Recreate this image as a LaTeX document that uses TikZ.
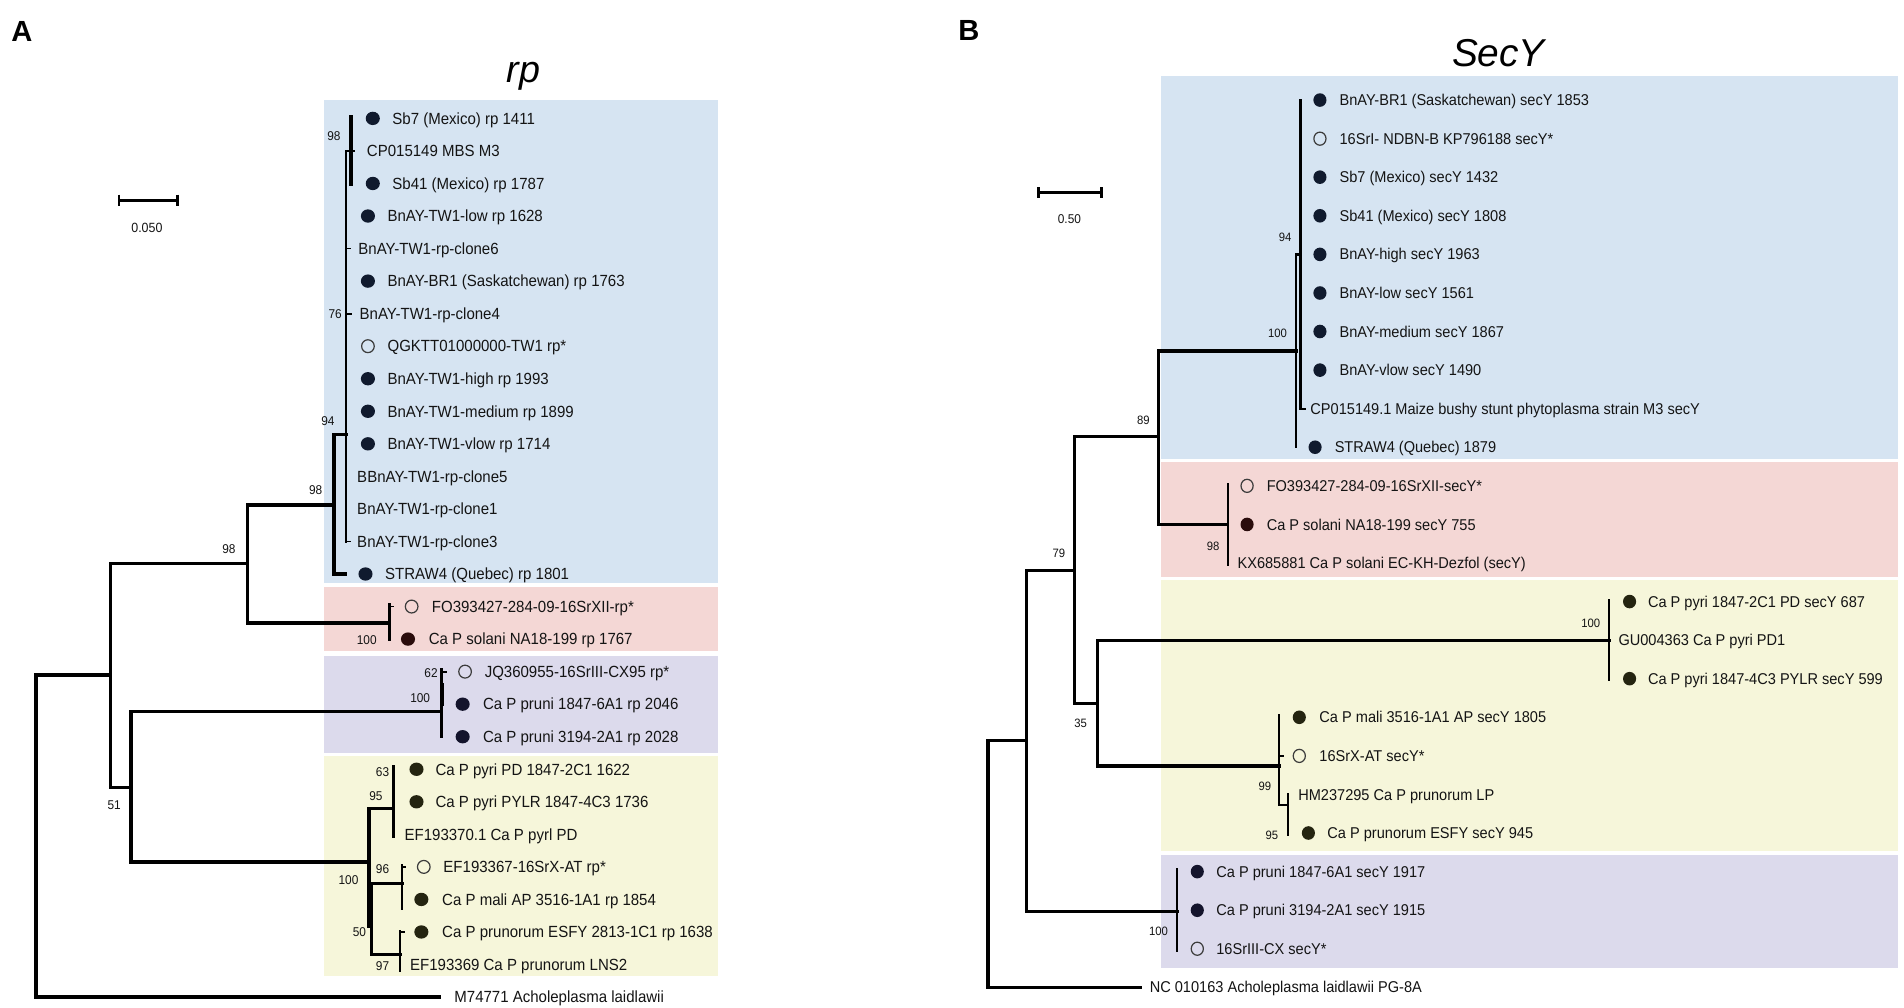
\documentclass[tikz,border=0pt]{standalone}
\usepackage{fontspec}
\setmainfont{Liberation Sans}
\newfontfamily\fN[FakeStretch=0.93]{Liberation Sans}
\definecolor{bgBlue}{RGB}{214,228,242}
\definecolor{bgRed}{RGB}{244,215,213}
\definecolor{bgPurple}{RGB}{220,218,236}
\definecolor{bgYellow}{RGB}{246,246,218}
\definecolor{dNavy}{RGB}{16,26,46}
\definecolor{dBrown}{RGB}{42,12,12}
\definecolor{dPurple}{RGB}{20,20,44}
\definecolor{dOlive}{RGB}{36,36,16}
\definecolor{txt}{RGB}{20,20,20}
\definecolor{ring}{RGB}{60,60,60}
\tikzset{
  labA/.style={anchor=west, inner sep=0pt, text height=9.5pt, text depth=0pt, text=txt, font=\fN\fontsize{13.3}{14}\selectfont},
  labB/.style={anchor=west, inner sep=0pt, text height=9.2pt, text depth=0pt, text=txt, font=\fN\fontsize{12.9}{14}\selectfont},
  bsA/.style={inner sep=0pt, text=txt, font=\fN\fontsize{10.5}{12}\selectfont},
  bsB/.style={inner sep=0pt, text=txt, font=\fN\fontsize{10}{12}\selectfont},
  brA/.style={line width=2.9pt, draw=black},
  brV/.style={line width=2.2pt, draw=black},
  tk/.style={line width=1.5pt, draw=black},
  brB/.style={line width=2.6pt, draw=black},
  brBl/.style={line width=1.8pt, draw=black},
  fdot/.style={fill=#1, draw=none},
  odot/.style={draw=ring, line width=1pt, fill=none},
}
\begin{document}
\begin{tikzpicture}[x=1pt,y=-1pt,line cap=rect]
\useasboundingbox (0,0) rectangle (1568,830);
\fill[white] (0,0) rectangle (1568,830);
% ---------- background boxes ----------
\fill[bgBlue]   (267,82)    rectangle (591,480.5);
\fill[bgRed]    (267,483.5) rectangle (591,536.5);
\fill[bgPurple] (267,540)   rectangle (591,620);
\fill[bgYellow] (267,622.5) rectangle (591,804);
\fill[bgBlue]   (955.8,62.6)  rectangle (1563,378);
\fill[bgRed]    (955.8,380.7) rectangle (1563,475);
\fill[bgYellow] (955.8,477.6) rectangle (1563,701);
\fill[bgPurple] (955.8,704.5) rectangle (1563,797.3);
% ---------- headings ----------
\node[font=\bfseries\fontsize{24}{26}\selectfont, inner sep=0pt] (hA) at (18,26) {A};
\node[font=\bfseries\fontsize{24}{26}\selectfont, inner sep=0pt] (hB) at (798,24.7) {B};
\node[font=\itshape\fontsize{31}{33}\selectfont, inner sep=0pt] (tA) at (431,63) {rp};
\node[font=\itshape\fontsize{32}{34}\selectfont, inner sep=0pt] (tB) at (1234,44) {SecY};
% ---------- scale bars ----------
\coordinate (sa1) at (98,165); \coordinate (sa2) at (146,165);
\draw[line width=2.8pt,line cap=butt] (sa1) -- (sa2);
\draw[line width=2.4pt,line cap=butt] (98,160.3) -- (98,169.7) (146,160.3) -- (146,169.7);
\node[bsA, font=\fN\fontsize{11}{12}\selectfont] (sAl) at (121,187.5) {0.050};
\coordinate (sb1) at (855,158.7); \coordinate (sb2) at (907,158.7);
\draw[line width=2.4pt,line cap=butt] (sb1) -- (sb2);
\draw[line width=2.2pt,line cap=butt] (855,154.2) -- (855,163.2) (907,154.2) -- (907,163.2);
\node[bsA, font=\fN\fontsize{10.5}{12}\selectfont] (sBl) at (880.7,180.6) {0.50};

% =========== PANEL A tree ===========
\draw[brA] (289,96) -- (289,152);
\draw[tk] (285,124.3) -- (292,124.3);
\draw[brV] (285,124.3) -- (285,445.9);
\draw[tk] (285,204.7) -- (288,204.7);
\draw[tk] (285,258.3) -- (289,258.3);
\draw[tk] (285,445.9) -- (288,445.9);
\draw[brA] (275,358) -- (285,358);
\draw[brA] (275,358) -- (275,472.7) -- (284,472.7);
\draw[brA] (204,416) -- (275,416);
\draw[brA] (204,416) -- (204,513) -- (320.6,513);
\draw[brV] (320.6,498) -- (320.6,527);
\draw[tk] (320.6,499.5) -- (323.5,499.5);
\draw[brA] (91,464) -- (204,464);
\draw[brA] (91,464) -- (91,648.5) -- (108,648.5);
\draw[brA] (29.6,556) -- (91,556);
\draw[brA] (29.6,556) -- (29.6,821.1) -- (362,821.1);
\draw[brA] (108,586) -- (108,710);
\draw[brA] (108,586) -- (363.5,586);
\draw[brV] (363.5,551.5) -- (363.5,606.7);
\draw[line width=3.2pt] (364,564) -- (364,580);
\draw[tk] (363.5,553.1) -- (367,553.1);
\draw[brA] (108,710) -- (304,710);
\draw[brA] (304,665.7) -- (304,762);
\draw[line width=3.8pt] (304.5,728) -- (304.5,762);
\draw[brA] (304,665.7) -- (324,665.7);
\draw[brV] (324,631) -- (324,689);
\draw[line width=2.8pt] (324,631) -- (324,660);
\draw[brA] (305,727.5) -- (331,727.5);
\draw[brV] (331,713) -- (331,748);
\draw[tk] (331,713.9) -- (334,713.9);
\draw[brA] (306,727.5) -- (306,786) -- (329.5,786);
\draw[brV] (329.5,767) -- (329.5,799);
\draw[tk] (329.5,767.5) -- (333,767.5);

% bootstrap A
\node[bsA] (ba1) at (275,112.5) {98};
\node[bsA] (ba2) at (276,259) {76};
\node[bsA] (ba3) at (270,347) {94};
\node[bsA] (ba4) at (260,404) {98};
\node[bsA] (ba5) at (188.5,452) {98};
\node[bsA] (ba6) at (302,527) {100};
\node[bsA] (ba7) at (355,554) {62};
\node[bsA] (ba8) at (346,575) {100};
\node[bsA] (ba9) at (94,663) {51};
\node[bsA] (ba10) at (315,635.5) {63};
\node[bsA] (ba11) at (309.6,655.5) {95};
\node[bsA] (ba12) at (315,716) {96};
\node[bsA] (ba13) at (287,724.6) {100};
\node[bsA] (ba14) at (296,768) {50};
\node[bsA] (ba15) at (315,796) {97};

% leaves A
\fill[fdot=dNavy] (307,97.5) ellipse[x radius=5.8,y radius=5.5];
\node[labA] (a0) at (323,97.5) {Sb7 (Mexico) rp 1411};
\node[labA] (a1) at (302,124.3) {CP015149 MBS M3};
\fill[fdot=dNavy] (307,151.1) ellipse[x radius=5.8,y radius=5.5];
\node[labA] (a2) at (323,151.1) {Sb41 (Mexico) rp 1787};
\fill[fdot=dNavy] (303,177.9) ellipse[x radius=5.8,y radius=5.5];
\node[labA] (a3) at (319,177.9) {BnAY-TW1-low rp 1628};
\node[labA] (a4) at (295,204.7) {BnAY-TW1-rp-clone6};
\fill[fdot=dNavy] (303,231.5) ellipse[x radius=5.8,y radius=5.5];
\node[labA] (a5) at (319,231.5) {BnAY-BR1 (Saskatchewan) rp 1763};
\node[labA] (a6) at (296,258.3) {BnAY-TW1-rp-clone4};
\draw[odot] (303,285.1) ellipse[x radius=5.2,y radius=5.3];
\node[labA] (a7) at (319,285.1) {QGKTT01000000-TW1 rp*};
\fill[fdot=dNavy] (303,311.9) ellipse[x radius=5.8,y radius=5.5];
\node[labA] (a8) at (319,311.9) {BnAY-TW1-high rp 1993};
\fill[fdot=dNavy] (303,338.7) ellipse[x radius=5.8,y radius=5.5];
\node[labA] (a9) at (319,338.7) {BnAY-TW1-medium rp 1899};
\fill[fdot=dNavy] (303,365.5) ellipse[x radius=5.8,y radius=5.5];
\node[labA] (a10) at (319,365.5) {BnAY-TW1-vlow rp 1714};
\node[labA] (a11) at (294,392.3) {BBnAY-TW1-rp-clone5};
\node[labA] (a12) at (294,419.1) {BnAY-TW1-rp-clone1};
\node[labA] (a13) at (294,445.9) {BnAY-TW1-rp-clone3};
\fill[fdot=dNavy] (301,472.7) ellipse[x radius=5.8,y radius=5.5];
\node[labA] (a14) at (317,472.7) {STRAW4 (Quebec) rp 1801};
\draw[odot] (339,499.5) ellipse[x radius=5.2,y radius=5.3];
\node[labA] (a15) at (355.5,499.5) {FO393427-284-09-16SrXII-rp*};
\fill[fdot=dBrown] (336,526.3) ellipse[x radius=5.8,y radius=5.5];
\node[labA] (a16) at (353,526.3) {Ca P solani NA18-199 rp 1767};
\draw[odot] (383,553.1) ellipse[x radius=5.2,y radius=5.3];
\node[labA] (a17) at (399,553.1) {JQ360955-16SrIII-CX95 rp*};
\fill[fdot=dPurple] (381,579.9) ellipse[x radius=5.8,y radius=5.5];
\node[labA] (a18) at (397.6,579.9) {Ca P pruni 1847-6A1 rp 2046};
\fill[fdot=dPurple] (381,606.7) ellipse[x radius=5.8,y radius=5.5];
\node[labA] (a19) at (397.6,606.7) {Ca P pruni 3194-2A1 rp 2028};
\fill[fdot=dOlive] (343,633.5) ellipse[x radius=5.8,y radius=5.5];
\node[labA] (a20) at (358.5,633.5) {Ca P pyri PD 1847-2C1 1622};
\fill[fdot=dOlive] (343,660.3) ellipse[x radius=5.8,y radius=5.5];
\node[labA] (a21) at (358.5,660.3) {Ca P pyri PYLR 1847-4C3 1736};
\node[labA] (a22) at (333,687.1) {EF193370.1 Ca P pyrl PD};
\draw[odot] (349,713.9) ellipse[x radius=5.2,y radius=5.3];
\node[labA] (a23) at (365,713.9) {EF193367-16SrX-AT rp*};
\fill[fdot=dOlive] (347,740.7) ellipse[x radius=5.8,y radius=5.5];
\node[labA] (a24) at (364,740.7) {Ca P mali AP 3516-1A1 rp 1854};
\fill[fdot=dOlive] (347,767.5) ellipse[x radius=5.8,y radius=5.5];
\node[labA] (a25) at (364,767.5) {Ca P prunorum ESFY 2813-1C1 rp 1638};
\node[labA] (a26) at (337.6,794.3) {EF193369 Ca P prunorum LNS2};
\node[labA] (a27) at (374,821.1) {M74771 Acholeplasma laidlawii};

% =========== PANEL B tree ===========
\draw[brBl] (1071,82.4) -- (1071,336.6);
\draw[brBl] (1067.5,209.6) -- (1071,209.6);
\draw[brBl] (1067.5,209.6) -- (1067.5,368.3);
\draw[tk] (1071,336.6) -- (1075,336.6);
\draw[brB] (954.3,289) -- (1067.5,289);
\draw[brB] (954.3,289) -- (954.3,431.9) -- (1011,431.9);
\draw[brBl] (1011,398.5) -- (1011,465);
\draw[brB] (884.7,359.5) -- (954.3,359.5);
\draw[brB] (884.7,359.5) -- (884.7,579) -- (903.5,579);
\draw[brB] (845,470) -- (884.7,470);
\draw[brB] (903.5,527.2) -- (903.5,630.8);
\draw[brB] (903.5,527.2) -- (1325,527.2);
\draw[brBl] (1325,494) -- (1325,560);
\draw[brB] (903.5,630.8) -- (1053.5,630.8);
\draw[brBl] (1053.5,589) -- (1053.5,663) -- (1061,663);
\draw[tk] (1053.5,622.5) -- (1057,622.5);
\draw[brBl] (1061,654) -- (1061,687.6);
\draw[brB] (845,470) -- (845,750.7) -- (969.6,750.7);
\draw[brBl] (969.6,716) -- (969.6,783);
\draw[brB] (813.6,610) -- (845,610);
\draw[brB] (813.6,610) -- (813.6,813.1) -- (939,813.1);

% bootstrap B
\node[bsB] (bb1) at (1058.4,195.4) {94};
\node[bsB] (bb2) at (1052,274.5) {100};
\node[bsB] (bb3) at (941.6,346.4) {89};
\node[bsB] (bb4) at (999,449.6) {98};
\node[bsB] (bb5) at (872,455.6) {79};
\node[bsB] (bb6) at (1310,513) {100};
\node[bsB] (bb7) at (890,596) {35};
\node[bsB] (bb8) at (1041.7,647.8) {99};
\node[bsB] (bb9) at (1047.5,687.6) {95};
\node[bsB] (bb10) at (954,767) {100};

% leaves B
\fill[fdot=dNavy] (1087,82.4) ellipse[x radius=5.4,y radius=5.6];
\node[labB] (b0) at (1103,82.4) {BnAY-BR1 (Saskatchewan) secY 1853};
\draw[odot] (1087,114.2) ellipse[x radius=5,y radius=5.4];
\node[labB] (b1) at (1103,114.2) {16SrI- NDBN-B KP796188 secY*};
\fill[fdot=dNavy] (1087,145.9) ellipse[x radius=5.4,y radius=5.6];
\node[labB] (b2) at (1103,145.9) {Sb7 (Mexico) secY 1432};
\fill[fdot=dNavy] (1087,177.7) ellipse[x radius=5.4,y radius=5.6];
\node[labB] (b3) at (1103,177.7) {Sb41 (Mexico) secY 1808};
\fill[fdot=dNavy] (1087,209.5) ellipse[x radius=5.4,y radius=5.6];
\node[labB] (b4) at (1103,209.5) {BnAY-high secY 1963};
\fill[fdot=dNavy] (1087,241.3) ellipse[x radius=5.4,y radius=5.6];
\node[labB] (b5) at (1103,241.3) {BnAY-low secY 1561};
\fill[fdot=dNavy] (1087,273.0) ellipse[x radius=5.4,y radius=5.6];
\node[labB] (b6) at (1103,273.0) {BnAY-medium secY 1867};
\fill[fdot=dNavy] (1087,304.8) ellipse[x radius=5.4,y radius=5.6];
\node[labB] (b7) at (1103,304.8) {BnAY-vlow secY 1490};
\node[labB] (b8) at (1079,336.6) {CP015149.1 Maize bushy stunt phytoplasma strain M3 secY};
\fill[fdot=dNavy] (1083,368.3) ellipse[x radius=5.4,y radius=5.6];
\node[labB] (b9) at (1099,368.3) {STRAW4 (Quebec) 1879};
\draw[odot] (1027,400.1) ellipse[x radius=5,y radius=5.4];
\node[labB] (b10) at (1043,400.1) {FO393427-284-09-16SrXII-secY*};
\fill[fdot=dBrown] (1027,431.9) ellipse[x radius=5.4,y radius=5.6];
\node[labB] (b11) at (1043,431.9) {Ca P solani NA18-199 secY 755};
\node[labB] (b12) at (1019,463.6) {KX685881 Ca P solani EC-KH-Dezfol (secY)};
\fill[fdot=dOlive] (1342,495.4) ellipse[x radius=5.4,y radius=5.6];
\node[labB] (b13) at (1357,495.4) {Ca P pyri 1847-2C1 PD secY 687};
\node[labB] (b14) at (1332.7,527.2) {GU004363 Ca P pyri PD1};
\fill[fdot=dOlive] (1342,558.9) ellipse[x radius=5.4,y radius=5.6];
\node[labB] (b15) at (1357,558.9) {Ca P pyri 1847-4C3 PYLR secY 599};
\fill[fdot=dOlive] (1070,590.7) ellipse[x radius=5.4,y radius=5.6];
\node[labB] (b16) at (1086.4,590.7) {Ca P mali 3516-1A1 AP secY 1805};
\draw[odot] (1070,622.5) ellipse[x radius=5,y radius=5.4];
\node[labB] (b17) at (1086.4,622.5) {16SrX-AT secY*};
\node[labB] (b18) at (1069,654.3) {HM237295 Ca P prunorum LP};
\fill[fdot=dOlive] (1077.5,686.0) ellipse[x radius=5.4,y radius=5.6];
\node[labB] (b19) at (1093,686.0) {Ca P prunorum ESFY secY 945};
\fill[fdot=dPurple] (986,717.8) ellipse[x radius=5.4,y radius=5.6];
\node[labB] (b20) at (1001.5,717.8) {Ca P pruni 1847-6A1 secY 1917};
\fill[fdot=dPurple] (986,749.6) ellipse[x radius=5.4,y radius=5.6];
\node[labB] (b21) at (1001.5,749.6) {Ca P pruni 3194-2A1 secY 1915};
\draw[odot] (986,781.3) ellipse[x radius=5,y radius=5.4];
\node[labB] (b22) at (1001.5,781.3) {16SrIII-CX secY*};
\node[labB] (b23) at (946.7,813.1) {NC 010163 Acholeplasma laidlawii PG-8A};
\end{tikzpicture}
\end{document}
